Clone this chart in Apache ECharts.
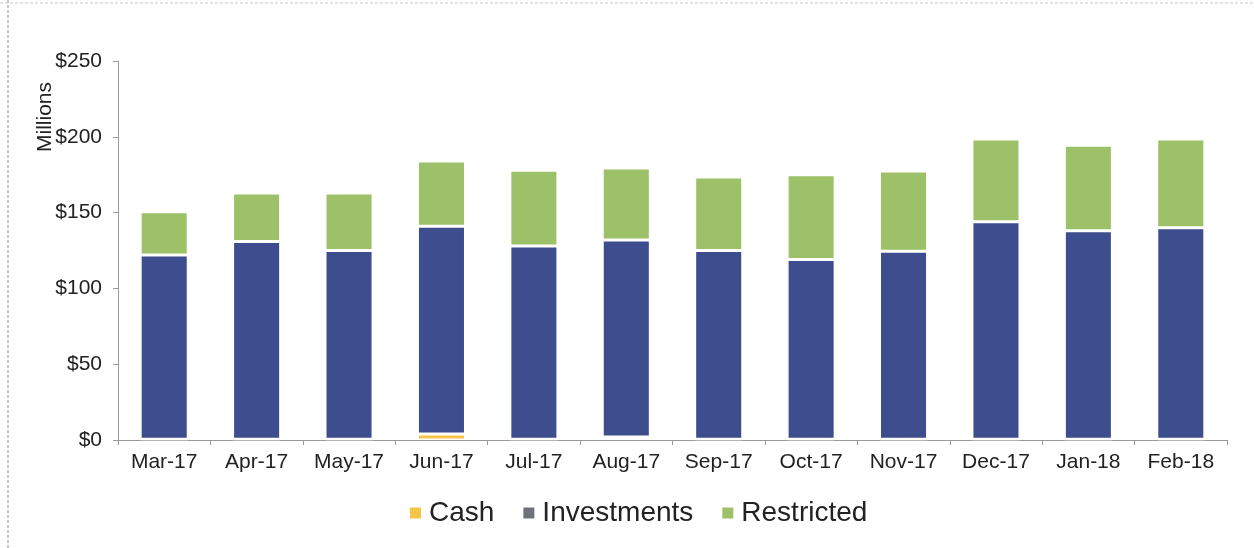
<!DOCTYPE html>
<html>
<head>
<meta charset="utf-8">
<script src="https://cdn.jsdelivr.net/npm/echarts@6/dist/echarts.min.js"></script>
<style>
  html, body { margin: 0; padding: 0; background: #fff; }
  #chart { width: 1254px; height: 548px; }
</style>
</head>
<body>
<div id="chart"></div>
<script>
// months on the x axis
const months = ['Mar-17', 'Apr-17', 'May-17', 'Jun-17', 'Jul-17', 'Aug-17',
                'Sep-17', 'Oct-17', 'Nov-17', 'Dec-17', 'Jan-18', 'Feb-18'];
// values in $ millions
const cash = [0.5, 0.5, 0.5, 4, 0.5, 2, 0.5, 0.5, 0.5, 0.5, 0.5, 0.5];
const investments = [121.5, 130.5, 124.5, 137, 127.5, 130, 124.5, 118.5, 124, 143.5, 137.5, 139.5];
const restricted = [28.5, 32, 38, 43, 50, 47.5, 48.5, 56, 53, 54.5, 56.5, 58.5];
const yTicks = [0, 50, 100, 150, 200, 250];

const chart = echarts.init(document.getElementById('chart'));

const font = 'Liberation Sans, Arial, sans-serif';

function barSeries(name, data, color) {
  return {
    name: name,
    type: 'bar',
    stack: 'total',
    barWidth: '52%',
    data: data,
    itemStyle: {
      color: color,
      borderColor: '#ffffff',
      borderWidth: 1.5
    }
  };
}

const option = {
  animation: false,
  backgroundColor: '#ffffff',
  grid: {
    left: 118,
    right: 27,
    top: 61,
    bottom: 108
  },
  legend: {
    top: 494,
    left: 403,
    itemWidth: 13,
    itemHeight: 13,
    itemGap: 27,
    icon: 'rect',
    textStyle: { fontSize: 28, color: '#222', fontFamily: font, padding: [0, 0, 0, 2] },
    data: [
      { name: 'Cash', itemStyle: { color: '#f6c446' } },
      { name: 'Investments', itemStyle: { color: '#6e727b' } },
      { name: 'Restricted', itemStyle: { color: '#9dc168' } }
    ]
  },
  xAxis: {
    type: 'category',
    data: months,
    axisLine: { show: true, lineStyle: { color: '#9a9a9a' } },
    axisTick: { show: true, alignWithLabel: false, length: 5, lineStyle: { color: '#9a9a9a' } },
    axisLabel: { fontSize: 21, color: '#222', fontFamily: font, margin: 12 }
  },
  yAxis: {
    type: 'value',
    min: yTicks[0],
    max: yTicks[yTicks.length - 1],
    interval: 50,
    axisLine: { show: true, lineStyle: { color: '#9a9a9a' } },
    axisTick: { show: true, length: 5, lineStyle: { color: '#9a9a9a' } },
    splitLine: { show: false },
    axisLabel: {
      fontSize: 21,
      color: '#222',
      fontFamily: font,
      margin: 16,
      formatter: v => '$' + v
    }
  },
  graphic: [
    {
      type: 'text',
      x: 35,
      y: 152,
      rotation: Math.PI / 2,
      style: { text: 'Millions', fill: '#222', font: '21px ' + font }
    },
    {
      type: 'line',
      shape: { x1: 8, y1: 0, x2: 8, y2: 548 },
      style: { stroke: '#b5b5b5', lineWidth: 1.5, lineDash: [3, 2] }
    },
    {
      type: 'line',
      shape: { x1: 0, y1: 3, x2: 1254, y2: 3 },
      style: { stroke: '#c8c8c8', lineWidth: 1, lineDash: [3, 2] }
    }
  ],
  series: [
    barSeries('Cash', cash, '#f6c446'),
    barSeries('Investments', investments, '#3e4d8e'),
    barSeries('Restricted', restricted, '#9dc168')
  ]
};

chart.setOption(option);
</script>
</body>
</html>
